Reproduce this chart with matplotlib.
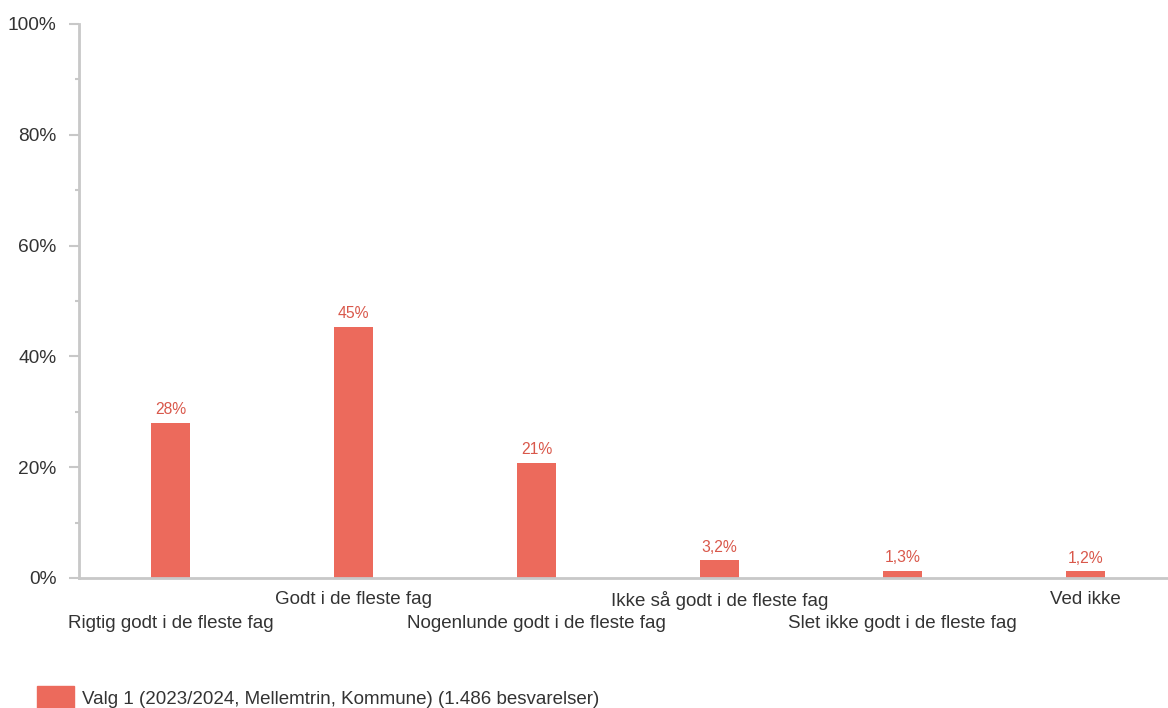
import numpy as np
import matplotlib.pyplot as plt
from matplotlib.patches import Rectangle
from matplotlib.ticker import MultipleLocator

plt.rcParams['font.family'] = ['Liberation Sans', 'DejaVu Sans']

# data
categories = ["Rigtig godt i de fleste fag", "Godt i de fleste fag",
              "Nogenlunde godt i de fleste fag", "Ikke så godt i de fleste fag",
              "Slet ikke godt i de fleste fag", "Ved ikke"]
values = [28.0, 45.3, 20.8, 3.2, 1.3, 1.2]
value_labels = ["28%", "45%", "21%", "3,2%", "1,3%", "1,2%"]
legend_label = "Valg 1 (2023/2024, Mellemtrin, Kommune) (1.486 besvarelser)"

bar_color = "#EC6A5C"
label_color = "#D9584B"
axis_color = "#C8C8C8"
text_color = "#333333"

fig = plt.figure(figsize=(11.68, 7.08), dpi=100)
ax = fig.add_axes([79/1168, 1-578/708, 1-79/1168, (578-24)/708])

x = np.arange(len(categories))
ax.bar(x, values, width=0.21, color=bar_color, zorder=2)
for xi, v, lab in zip(x, values, value_labels):
    ax.annotate(lab, (xi, v), xytext=(0, 4), textcoords="offset points",
                ha="center", va="bottom", fontsize=11.3, color=label_color)

ax.set_xlim(-0.5, 5.45)
ax.set_ylim(0, 100)
ax.yaxis.set_major_locator(MultipleLocator(20))
ax.yaxis.set_minor_locator(MultipleLocator(10))
ax.set_yticklabels([f"{int(t)}%" for t in ax.get_yticks()])

for s in ["top", "right"]:
    ax.spines[s].set_visible(False)
for s in ["left", "bottom"]:
    ax.spines[s].set_color(axis_color)
    ax.spines[s].set_linewidth(2)

ax.tick_params(axis="y", which="major", length=7.2, width=1.5, color=axis_color,
               labelsize=13.8, labelcolor=text_color, pad=9)
ax.tick_params(axis="y", which="minor", length=3, width=1.5, color=axis_color)
ax.set_xticks([])

# category labels in two staggered rows
for xi, cat in zip(x, categories):
    yoff = -17.3 if xi % 2 == 0 else 0
    ax.annotate(cat, (xi, 0), xytext=(0, -9 + yoff), textcoords="offset points",
                ha="center", va="top", fontsize=13.5, color=text_color,
                annotation_clip=False)

# legend
fig.patches.append(Rectangle((37/1168, 0), 37/1168, 22/708, transform=fig.transFigure,
                             color=bar_color, figure=fig))
fig.text(82/1168, 1-699/708, legend_label, fontsize=13.5, color=text_color, va="center")

fig.savefig("out.png", dpi=100)
